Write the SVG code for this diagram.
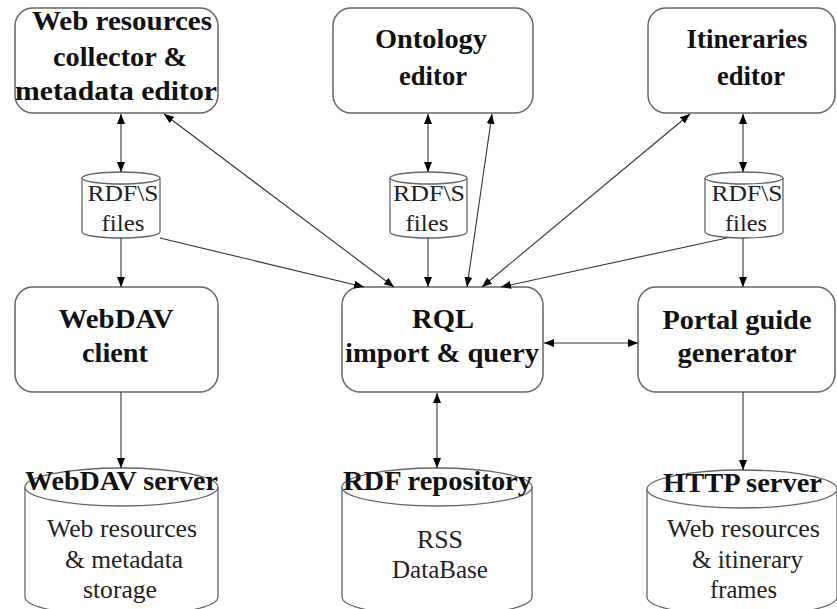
<svg xmlns="http://www.w3.org/2000/svg" width="837" height="609" viewBox="0 0 837 609">
<defs>
<style>
.box{fill:#fff;stroke:#666;stroke-width:1.5}
.cyl{fill:#fff;stroke:#666;stroke-width:1.3}
text{font-family:'Liberation Serif','Times New Roman',Times,serif;text-anchor:middle}
.b{font-weight:bold;font-size:28px;fill:#111}
.bt{font-weight:bold;font-size:27px;fill:#111}
.r{font-size:25px;fill:#222}
.s{font-size:24px;fill:#222}
.c line{stroke:#333;stroke-width:1.1;fill:none}
</style>
<marker id="ah" viewBox="0 0 10 8" refX="10" refY="4" markerWidth="10" markerHeight="8" markerUnits="userSpaceOnUse" orient="auto-start-reverse">
<path d="M0,0 L10,4 L0,8 z" fill="#000"/>
</marker>
</defs>
<rect width="837" height="609" fill="#fff"/>

<g id="collector">
<rect class="box" x="15" y="8" width="203" height="105" rx="18"/>
<text class="b" x="122" y="30" textLength="180" lengthAdjust="spacingAndGlyphs">Web resources</text>
<text class="b" x="120" y="66" textLength="134" lengthAdjust="spacingAndGlyphs">collector &amp;</text>
<text class="b" x="116" y="100" textLength="202" lengthAdjust="spacingAndGlyphs">metadata editor</text>
</g>
<g id="ontology">
<rect class="box" x="333" y="8" width="200" height="105" rx="18"/>
<text class="b" x="431" y="48" textLength="112" lengthAdjust="spacingAndGlyphs">Ontology</text>
<text class="b" x="433" y="85" textLength="68" lengthAdjust="spacingAndGlyphs">editor</text>
</g>
<g id="itineraries">
<rect class="box" x="648" y="8" width="187" height="105" rx="18"/>
<text class="b" x="747" y="48" textLength="121" lengthAdjust="spacingAndGlyphs">Itineraries</text>
<text class="b" x="751" y="85" textLength="68" lengthAdjust="spacingAndGlyphs">editor</text>
</g>

<g id="rdfs1">
<path class="cyl" d="M82,178 A39,6 0 0 1 160,178 L160,232 A39,6 0 0 1 82,232 Z"/>
<path class="cyl" d="M82,178 A39,6 0 0 0 160,178" fill="none"/>
<text class="s" x="123" y="201" textLength="71" lengthAdjust="spacingAndGlyphs">RDF\S</text>
<text class="s" x="123" y="231" textLength="43" lengthAdjust="spacingAndGlyphs">files</text>
</g>
<g id="rdfs2">
<path class="cyl" d="M390,178 A38.5,6 0 0 1 467,178 L467,232 A38.5,6 0 0 1 390,232 Z"/>
<path class="cyl" d="M390,178 A38.5,6 0 0 0 467,178" fill="none"/>
<text class="s" x="429" y="201" textLength="72" lengthAdjust="spacingAndGlyphs">RDF\S</text>
<text class="s" x="427" y="231" textLength="43" lengthAdjust="spacingAndGlyphs">files</text>
</g>
<g id="rdfs3">
<path class="cyl" d="M705,178 A39,6 0 0 1 783,178 L783,232 A39,6 0 0 1 705,232 Z"/>
<path class="cyl" d="M705,178 A39,6 0 0 0 783,178" fill="none"/>
<text class="s" x="747" y="201" textLength="71" lengthAdjust="spacingAndGlyphs">RDF\S</text>
<text class="s" x="746" y="231" textLength="42" lengthAdjust="spacingAndGlyphs">files</text>
</g>

<g id="webdavclient">
<rect class="box" x="15" y="287" width="203" height="105" rx="18"/>
<text class="b" x="116" y="328" textLength="115" lengthAdjust="spacingAndGlyphs">WebDAV</text>
<text class="b" x="115" y="362" textLength="66" lengthAdjust="spacingAndGlyphs">client</text>
</g>
<g id="rql">
<rect class="box" x="342" y="287" width="201" height="105" rx="18"/>
<text class="b" x="443" y="328" textLength="62" lengthAdjust="spacingAndGlyphs">RQL</text>
<text class="b" x="442" y="362" textLength="194" lengthAdjust="spacingAndGlyphs">import &amp; query</text>
</g>
<g id="portal">
<rect class="box" x="638" y="287" width="197" height="105" rx="18"/>
<text class="b" x="737" y="329" textLength="149" lengthAdjust="spacingAndGlyphs">Portal guide</text>
<text class="b" x="737" y="362" textLength="119" lengthAdjust="spacingAndGlyphs">generator</text>
</g>

<g id="webdavserver">
<path class="cyl" d="M25,487 A96.5,19 0 0 1 218,487 L218,597 A96.5,19 0 0 1 25,597 Z"/>
<path class="cyl" d="M25,487 A96.5,19 0 0 0 218,487" fill="none"/>
<text class="bt" x="121.5" y="490" textLength="193" lengthAdjust="spacingAndGlyphs">WebDAV server</text>
<text class="r" x="122" y="537" textLength="150" lengthAdjust="spacingAndGlyphs">Web resources</text>
<text class="r" x="124" y="568" textLength="118" lengthAdjust="spacingAndGlyphs">&amp; metadata</text>
<text class="r" x="120" y="598" textLength="74" lengthAdjust="spacingAndGlyphs">storage</text>
</g>
<g id="rdfrepo">
<path class="cyl" d="M342,487 A95,19 0 0 1 532,487 L532,597 A95,19 0 0 1 342,597 Z"/>
<path class="cyl" d="M342,487 A95,19 0 0 0 532,487" fill="none"/>
<text class="bt" x="437.5" y="490" textLength="189" lengthAdjust="spacingAndGlyphs">RDF repository</text>
<text class="r" x="440" y="548" textLength="46" lengthAdjust="spacingAndGlyphs">RSS</text>
<text class="r" x="440" y="578" textLength="96" lengthAdjust="spacingAndGlyphs">DataBase</text>
</g>
<g id="httpserver">
<path class="cyl" d="M647,489 A95,19 0 0 1 837,489 L837,597 A95,19 0 0 1 647,597 Z"/>
<path class="cyl" d="M647,489 A95,19 0 0 0 837,489" fill="none"/>
<text class="bt" x="742.5" y="492" textLength="159" lengthAdjust="spacingAndGlyphs">HTTP server</text>
<text class="r" x="743.5" y="537" textLength="153" lengthAdjust="spacingAndGlyphs">Web resources</text>
<text class="r" x="747.5" y="568" textLength="111" lengthAdjust="spacingAndGlyphs">&amp; itinerary</text>
<text class="r" x="743.5" y="598" textLength="67" lengthAdjust="spacingAndGlyphs">frames</text>
</g>

<g id="connectors" class="c">
<line x1="121" y1="114" x2="121" y2="172" marker-start="url(#ah)" marker-end="url(#ah)"/>
<line x1="428" y1="114" x2="428" y2="172" marker-start="url(#ah)" marker-end="url(#ah)"/>
<line x1="743" y1="114" x2="743" y2="172" marker-start="url(#ah)" marker-end="url(#ah)"/>
<line x1="121" y1="238" x2="121" y2="287" marker-end="url(#ah)"/>
<line x1="428" y1="238" x2="428" y2="287" marker-end="url(#ah)"/>
<line x1="743" y1="238" x2="743" y2="287" marker-end="url(#ah)"/>
<line x1="121" y1="392" x2="121" y2="468" marker-end="url(#ah)"/>
<line x1="743" y1="392" x2="743" y2="470" marker-end="url(#ah)"/>
<line x1="437" y1="393" x2="437" y2="468" marker-start="url(#ah)" marker-end="url(#ah)"/>
<line x1="544" y1="343" x2="638" y2="343" marker-start="url(#ah)" marker-end="url(#ah)"/>
<line x1="164" y1="114" x2="394" y2="287" marker-start="url(#ah)" marker-end="url(#ah)"/>
<line x1="492" y1="114" x2="467" y2="287" marker-start="url(#ah)" marker-end="url(#ah)"/>
<line x1="690" y1="114" x2="482" y2="287" marker-start="url(#ah)" marker-end="url(#ah)"/>
<line x1="160" y1="238" x2="364" y2="287" marker-end="url(#ah)"/>
<line x1="727" y1="238" x2="501" y2="287" marker-end="url(#ah)"/>
</g>
</svg>
